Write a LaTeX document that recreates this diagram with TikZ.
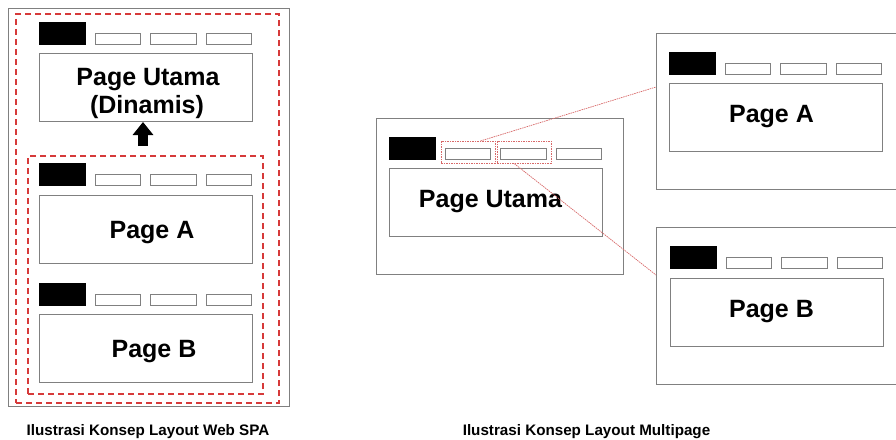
\documentclass[tikz,border=0pt]{standalone}
\usepackage{fontspec}
\setmainfont{Liberation Sans}
\usetikzlibrary{arrows.meta}

\definecolor{framegray}{HTML}{808080}
\definecolor{spared}{HTML}{D63A3A}
\definecolor{linkred}{HTML}{D86A6A}

\tikzset{
  frame/.style={draw=framegray, line width=0.9pt, fill=white, inner sep=0pt, anchor=north west},
  logo/.style={draw=black, fill=black, minimum width=46pt, minimum height=22pt, inner sep=0pt, anchor=north west},
  tab/.style={draw=framegray, line width=0.8pt, fill=white, minimum width=45.5pt, minimum height=11pt, inner sep=0pt, anchor=north west},
  pagebox/.style={draw=framegray, line width=0.9pt, fill=white, minimum width=213pt, minimum height=68pt, inner sep=0pt, anchor=north west},
  pagetext/.style={font=\bfseries\fontsize{25}{28}\selectfont, text=black, inner sep=0pt, anchor=base},
  sparegion/.style={draw=spared, line width=2pt, dash pattern=on 6pt off 4pt, inner sep=0pt, anchor=north west},
  selbox/.style={draw=linkred, line width=0.7pt, dash pattern=on 1.5pt off 1pt, minimum width=54pt, minimum height=22pt, inner sep=0pt, anchor=north west},
  link/.style={draw=linkred, line width=0.7pt, dash pattern=on 1.5pt off 0.8pt},
  upperarrow/.style={line width=10pt, -{Triangle[width=20pt,length=13pt]}, black},
  caption/.style={font=\bfseries\fontsize{15.2}{18}\selectfont, text=black, anchor=base, inner sep=0pt}
}

% logo block plus three menu tabs, #1 = name prefix, (#2,#3) = top-left of logo
\newcommand\menubar[3]{%
  \node[logo] (#1logo) at (#2,#3) {};
  \node[tab] (#1tabA) at (#2+55.5,#3+11) {};
  \node[tab] (#1tabB) at (#2+111,#3+11) {};
  \node[tab] (#1tabC) at (#2+166.5,#3+11) {};
}

\begin{document}
\begin{tikzpicture}[x=1pt, y=-1pt]
\useasboundingbox (0,0) rectangle (896,439);
\begin{scope}
\clip (0,0) rectangle (896,439);

% ---------- single page application ----------
\node[frame, minimum width=281pt, minimum height=398pt] (spaframe) at (8,8) {};
\node[sparegion, minimum width=263pt, minimum height=389pt] (spaouter) at (15,13) {};
\node[sparegion, minimum width=235pt, minimum height=238pt] (spainner) at (27,155) {};

\menubar{u}{39}{22}
\node[pagebox] (utama) at (39,53) {};
\node[pagetext] (utamatext) at (148,85) {Page Utama};
\node[pagetext] (utamatext2) at (147,113) {(Dinamis)};

\menubar{a}{39}{163}
\node[pagebox] (pagea) at (39,195) {};
\node[pagetext] (pageatext) at (152,238) {Page A};

\menubar{b}{39}{283}
\node[pagebox] (pageb) at (39,314) {};
\node[pagetext] (pagebtext) at (154,357) {Page B};

\coordinate (arrowbase) at (143,146);
\coordinate (arrowtip) at (143,122);
\draw[upperarrow] (arrowbase) -- (arrowtip);

\node[caption] (spacaption) at (148,435) {Ilustrasi Konsep Layout Web SPA};

% ---------- multipage ----------
\node[frame, minimum width=247pt, minimum height=156pt] (mainframe) at (376,118) {};
\menubar{m}{389}{137}
\node[pagebox] (mainpage) at (389,168) {};
\node[pagetext] (maintext) at (490.5,207) {Page Utama};
\node[selbox] (selA) at (441,141) {};
\node[selbox] (selB) at (497,141) {};

\node[frame, minimum width=260pt, minimum height=156pt] (frameA) at (656,33) {};
\menubar{ra}{669}{52}
\node[pagebox] (rpagea) at (669,83) {};
\node[pagetext] (rpageatext) at (771.5,122) {Page A};

\node[frame, minimum width=260pt, minimum height=157pt] (frameB) at (656,227) {};
\menubar{rb}{670}{246}
\node[pagebox] (rpageb) at (670,278) {};
\node[pagetext] (rpagebtext) at (771.5,317) {Page B};

\draw[link] ([xshift=12pt]selA.north) -- ([yshift=-54pt]frameA.north west);
\draw[link] ([xshift=-10pt]selB.south) -- ([yshift=-48pt]frameB.north west);

\node[caption] (mpcaption) at (586.5,435) {Ilustrasi Konsep Layout Multipage};
\end{scope}
\end{tikzpicture}
\end{document}
